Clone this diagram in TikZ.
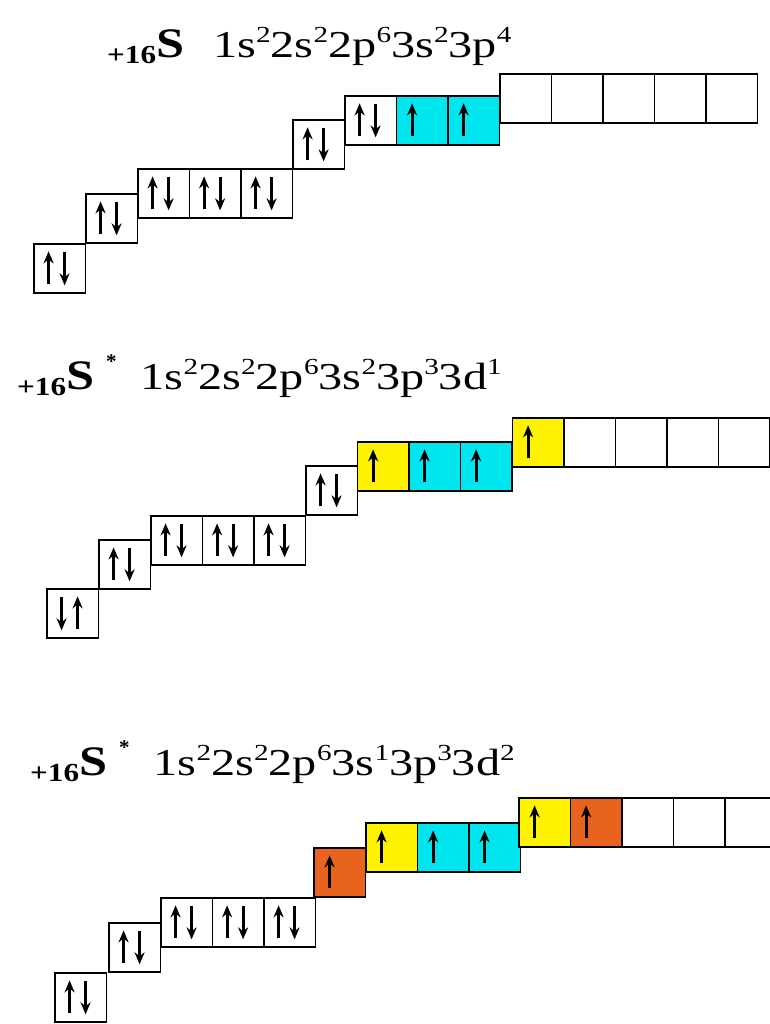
\documentclass[tikz,border=0pt]{standalone}
\usepackage{fontspec}
\setmainfont{Liberation Serif}
\usetikzlibrary{arrows.meta}
\definecolor{orbcyan}{HTML}{00E6EE}
\definecolor{orbyellow}{HTML}{FFF200}
\definecolor{orborange}{HTML}{E8641E}
% prefix "+16S", optional star
\newcommand\elem{\scalebox{1.2}[1]{\raisebox{-6pt}{\fontsize{26}{26}\selectfont\bfseries +16}\fontsize{42}{42}\selectfont\bfseries S}}
\newcommand\ex[1]{\raisebox{15pt}{\fontsize{23}{23}\selectfont #1}}
\newcommand\st{\raisebox{21pt}{\fontsize{21}{21}\selectfont\bfseries *}}
\newcommand\cfg[1]{\scalebox{1.27}[1]{\fontsize{38}{40}\selectfont #1}}
\newcommand\updn[1]{%
  \draw[el] ([xshift=-11pt,yshift=-16pt]#1.center) -- ([xshift=-11pt,yshift=17pt]#1.center);
  \draw[el] ([xshift=5pt,yshift=16pt]#1.center) -- ([xshift=5pt,yshift=-17pt]#1.center);}
\newcommand\dnup[1]{%
  \draw[el] ([xshift=-11pt,yshift=16pt]#1.center) -- ([xshift=-11pt,yshift=-17pt]#1.center);
  \draw[el] ([xshift=5pt,yshift=-16pt]#1.center) -- ([xshift=5pt,yshift=17pt]#1.center);}
\newcommand\one[1]{%
  \draw[el] ([xshift=-10pt,yshift=-16pt]#1.center) -- ([xshift=-10pt,yshift=17pt]#1.center);}
\begin{document}
\begin{tikzpicture}[x=1pt,y=-1pt,
  orb/.style={draw=black,line width=1.7pt,minimum width=51.5pt,minimum height=49pt,
    inner sep=0pt,anchor=north west,fill=white},
  cy/.style={orb,fill=orbcyan},
  ye/.style={orb,fill=orbyellow},
  orn/.style={orb,fill=orborange},
  el/.style={line width=3pt,-{Stealth[length=12pt,width=10pt]}},
  ttl/.style={anchor=base west,inner sep=0pt}]
\clip (0,0) rectangle (770,1024);
\fill[white] (0,0) rectangle (770,1024);
% ---------- diagram 1 ----------
\node[ttl] (t1) at (107,58) {\elem\hspace{29pt}\cfg{1s\ex{2}2s\ex{2}2p\ex{6}3s\ex{2}3p\ex{4}}};
\node[orb] (a1s) at (33,243) {};
\node[orb] (a2s) at (85,193) {};
\node[orb] (a2pa) at (137,168) {};
\node[orb] (a2pb) at (188.5,168) {};
\node[orb] (a2pc) at (240,168) {};
\node[orb] (a3s) at (292,119) {};
\node[orb] (a3pa) at (344,95) {};
\node[cy] (a3pb) at (395.5,95) {};
\node[cy] (a3pc) at (447,95) {};
\node[orb] (a3da) at (499,73) {};
\node[orb] (a3db) at (550.5,73) {};
\node[orb] (a3dc) at (602,73) {};
\node[orb] (a3dd) at (653.5,73) {};
\node[orb] (a3de) at (705,73) {};
\updn{a1s}\updn{a2s}\updn{a2pa}\updn{a2pb}\updn{a2pc}\updn{a3s}\updn{a3pa}
\one{a3pb}\one{a3pc}
% ---------- diagram 2 ----------
\node[ttl] (t2) at (17,389) {\elem\hspace{12pt}\st\hspace{24pt}\cfg{1s\ex{2}2s\ex{2}2p\ex{6}3s\ex{2}3p\ex{3}3d\ex{1}}};
\node[orb] (b1s) at (46,588) {};
\node[orb] (b2s) at (98,539) {};
\node[orb] (b2pa) at (150,515) {};
\node[orb] (b2pb) at (201.5,515) {};
\node[orb] (b2pc) at (253,515) {};
\node[orb] (b3s) at (305,465) {};
\node[ye] (b3pa) at (356.5,441) {};
\node[cy] (b3pb) at (408,441) {};
\node[cy] (b3pc) at (459.5,441) {};
\node[ye] (b3da) at (511.5,417) {};
\node[orb] (b3db) at (563,417) {};
\node[orb] (b3dc) at (614.5,417) {};
\node[orb] (b3dd) at (666,417) {};
\node[orb] (b3de) at (717.5,417) {};
\dnup{b1s}\updn{b2s}\updn{b2pa}\updn{b2pb}\updn{b2pc}\updn{b3s}
\one{b3pa}\one{b3pb}\one{b3pc}\one{b3da}
% ---------- diagram 3 ----------
\node[ttl] (t3) at (30,775) {\elem\hspace{12pt}\st\hspace{24pt}\cfg{1s\ex{2}2s\ex{2}2p\ex{6}3s\ex{1}3p\ex{3}3d\ex{2}}};
\node[orb] (c1s) at (54,972) {};
\node[orb] (c2s) at (108,922) {};
\node[orb] (c2pa) at (160,897) {};
\node[orb] (c2pb) at (211.5,897) {};
\node[orb] (c2pc) at (263,897) {};
\node[orn] (c3s) at (313,847) {};
\node[ye] (c3pa) at (365,822) {};
\node[cy] (c3pb) at (416.5,822) {};
\node[cy] (c3pc) at (468,822) {};
\node[ye] (c3da) at (518,797) {};
\node[orn] (c3db) at (569.5,797) {};
\node[orb] (c3dc) at (621,797) {};
\node[orb] (c3dd) at (672.5,797) {};
\node[orb] (c3de) at (724,797) {};
\updn{c1s}\updn{c2s}\updn{c2pa}\updn{c2pb}\updn{c2pc}
\one{c3s}\one{c3pa}\one{c3pb}\one{c3pc}\one{c3da}\one{c3db}
\end{tikzpicture}
\end{document}
